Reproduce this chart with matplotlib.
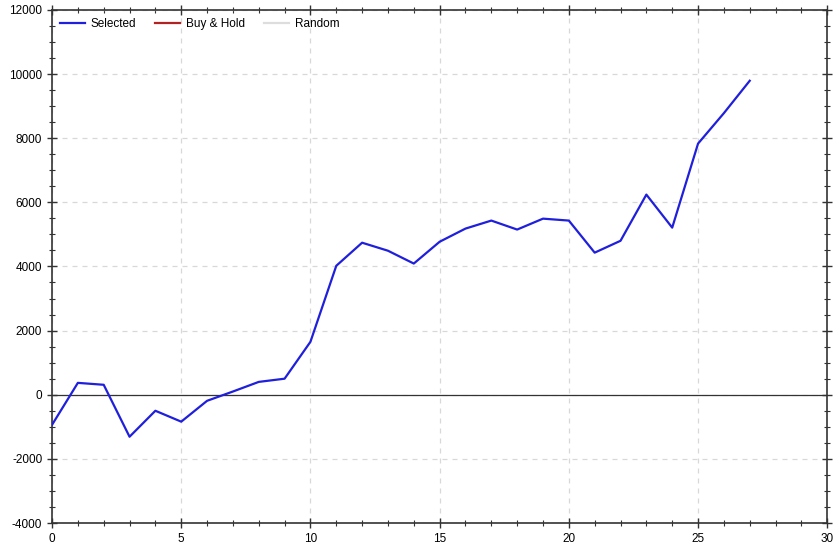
import matplotlib
matplotlib.use('Agg')
import matplotlib.pyplot as plt
from matplotlib.ticker import MultipleLocator

# equity curve values
steps = list(range(28))
selected = [-940, 370, 310, -1310, -500, -840, -190, 100, 400, 500,
            1650, 4020, 4740, 4490, 4090, 4770, 5180, 5430, 5150, 5490,
            5430, 4430, 4800, 6240, 5210, 7830, 8780, 9790]
legend_names = ['Selected', 'Buy & Hold', 'Random']
legend_colors = ['#1f1fdc', '#b22222', '#dddddd']

plt.rcParams['font.family'] = ['Liberation Sans', 'DejaVu Sans']
plt.rcParams['font.size'] = 8.5
plt.rcParams['axes.unicode_minus'] = False

fig = plt.figure(figsize=(8.39, 5.48), dpi=100)
ax = fig.add_axes([0.062, 0.0456, 0.924, 0.9364])

ax.plot(steps, selected, color=legend_colors[0], lw=1.6, label=legend_names[0], zorder=3)
# the other two series are listed in the legend only
ax.plot([], [], color=legend_colors[1], lw=1.6, label=legend_names[1])
ax.plot([], [], color=legend_colors[2], lw=1.6, label=legend_names[2])
ax.axhline(0, color='#333333', lw=0.9, zorder=2.5)

ax.set_xlim(0, 30)
ax.set_ylim(-4000, 12000)
ax.xaxis.set_major_locator(MultipleLocator(5))
ax.xaxis.set_minor_locator(MultipleLocator(1))
ax.yaxis.set_major_locator(MultipleLocator(2000))
ax.yaxis.set_minor_locator(MultipleLocator(500))
ax.tick_params(which='both', direction='inout', top=True, right=True,
               labeltop=False, labelright=False, color='#333333')
ax.tick_params(which='major', length=7, width=1)
ax.tick_params(which='minor', length=5, width=0.8)

ax.set_axisbelow(True)
ax.grid(True, which='major', ls=(0, (4, 4)), color='#d8d8d8', lw=0.9)
for s in ax.spines.values():
    s.set_color('#333333')
    s.set_linewidth(1.2)

ax.legend(loc='upper left', ncol=3, frameon=False, handlelength=2.1,
          handletextpad=0.5, columnspacing=1.6, borderaxespad=0.3, fontsize=8.5)

fig.savefig('out.png', dpi=100)
